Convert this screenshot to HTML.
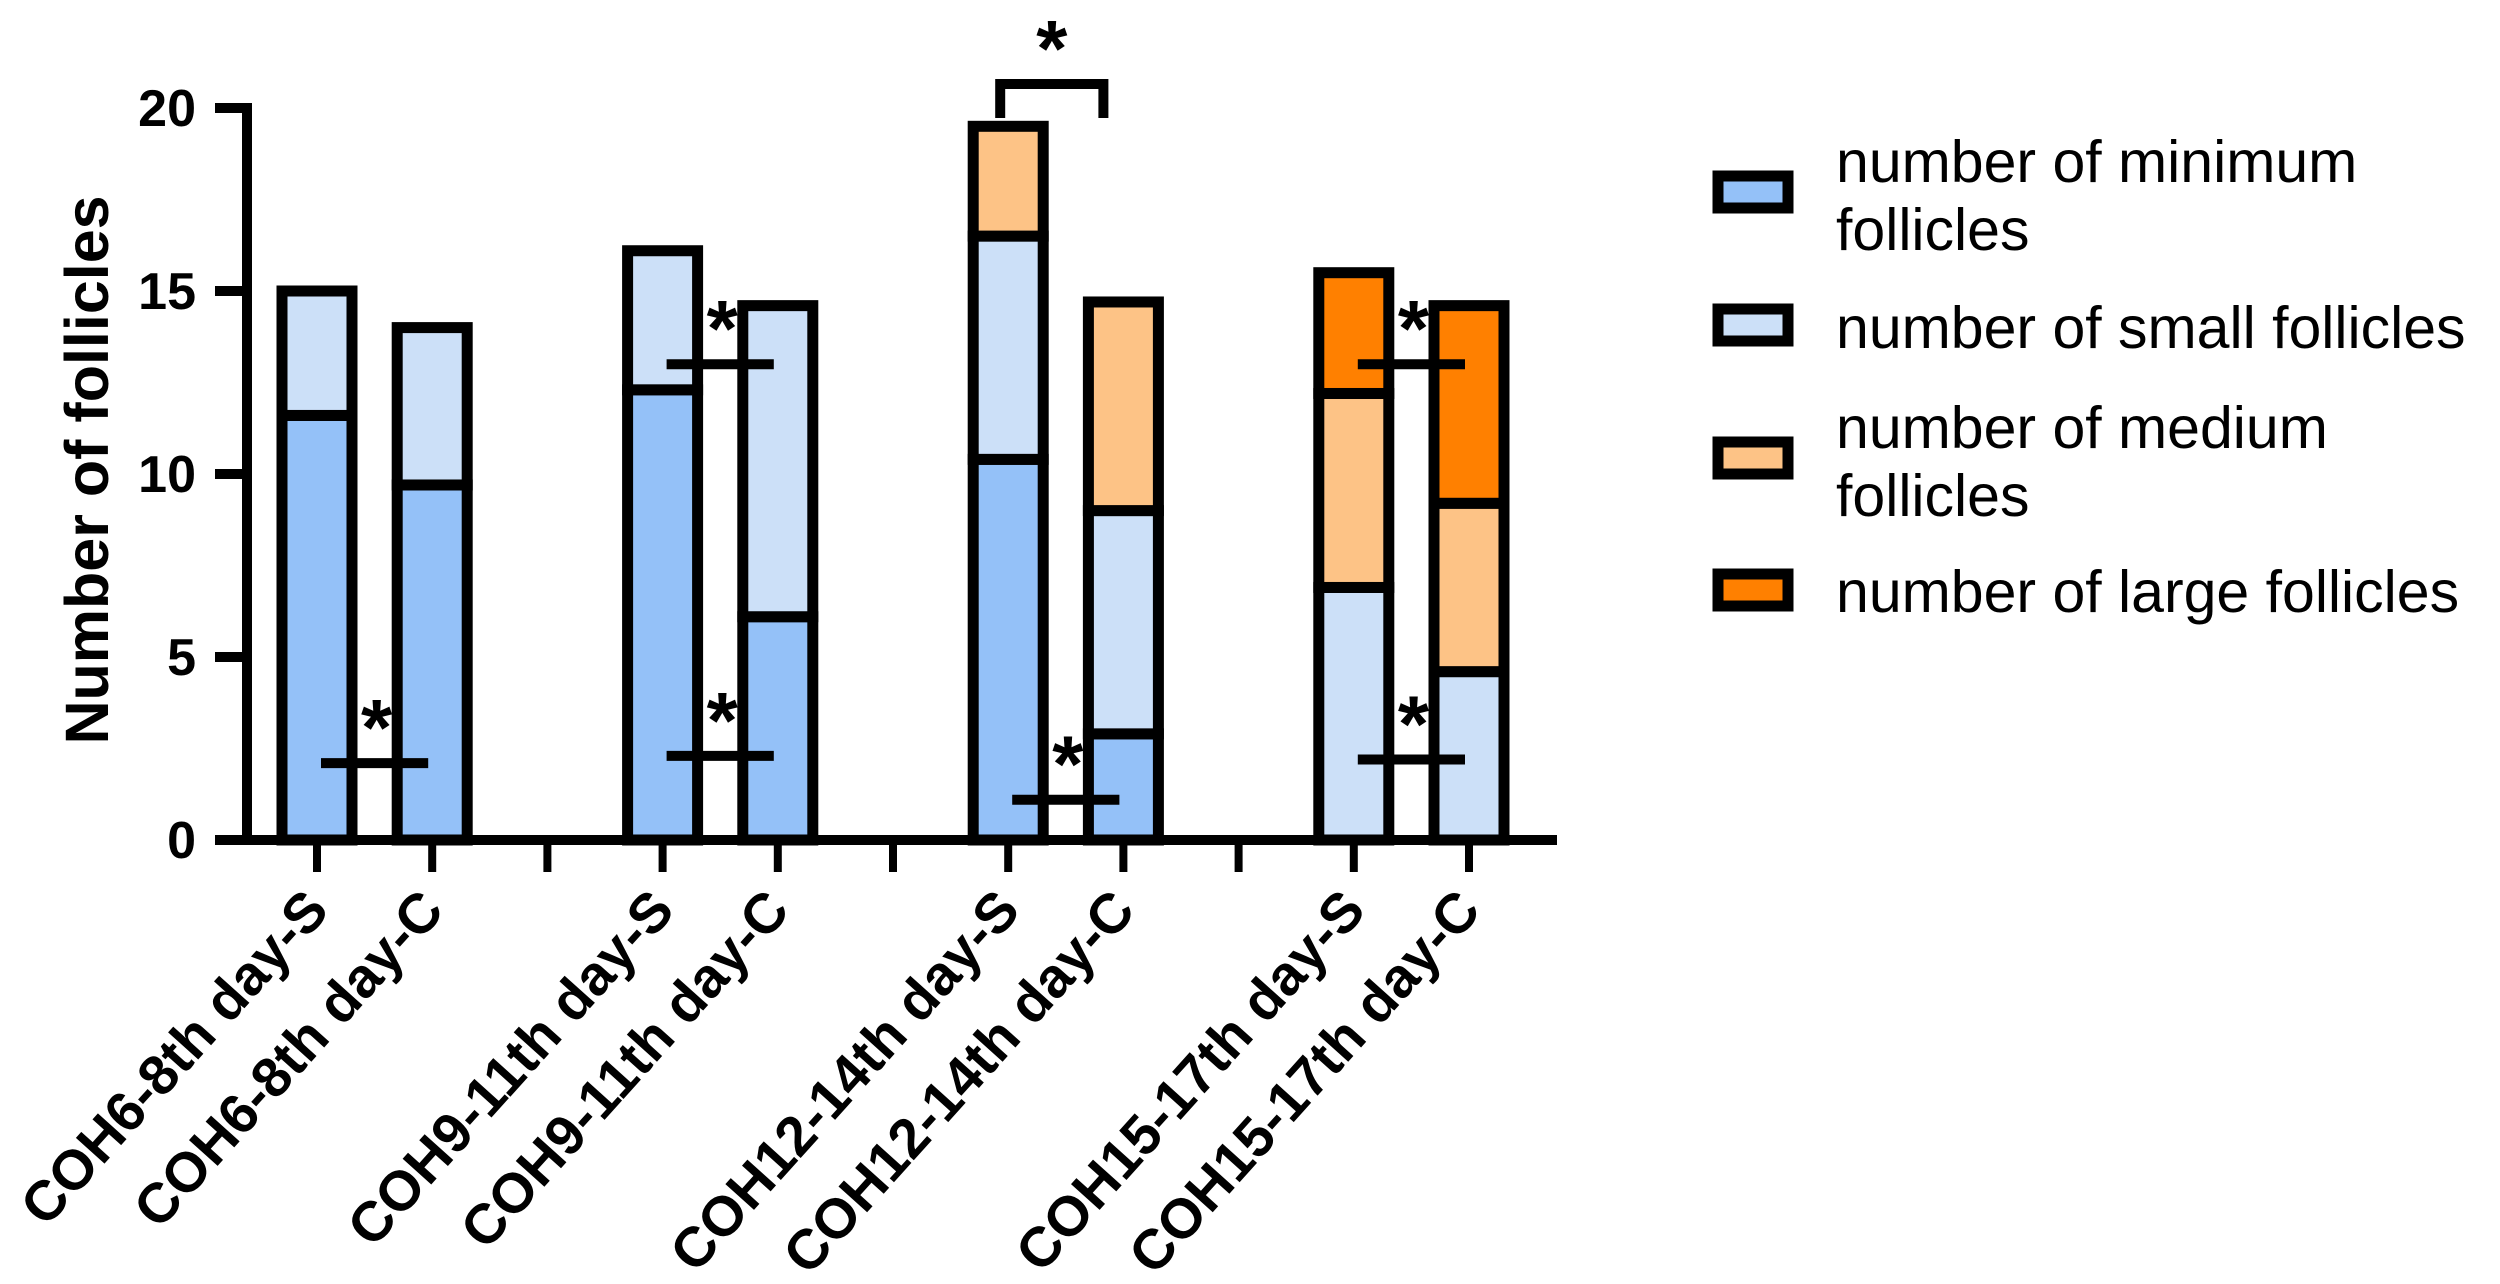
<!DOCTYPE html>
<html><head><meta charset="utf-8"><style>
html,body{margin:0;padding:0;background:#fff;}
svg{display:block;font-family:"Liberation Sans",Arial,sans-serif;}
</style></head><body>
<svg id="chart" width="2500" height="1284" viewBox="0 0 2500 1284" xmlns="http://www.w3.org/2000/svg">
<g id="bars"></g>
<g id="axes"></g>
<g id="annot"></g>
<g id="legend"></g>
</svg>
<script>
const categories = ["COH6-8th day-S","COH6-8th day-C","COH9-11th day-S","COH9-11th day-C","COH12-14th day-S","COH12-14th day-C","COH15-17th day-S","COH15-17th day-C"];
const slotIndex = [0,1,3,4,6,7,9,10];
const minimumVals = [11.6, 9.7, 12.3, 6.1, 10.4, 2.9, 0, 0];
const smallVals   = [3.4, 4.3, 3.8, 8.5, 6.1, 6.1, 6.9, 4.6];
const mediumVals  = [0, 0, 0, 0, 3.0, 5.7, 5.3, 4.6];
const largeVals   = [0, 0, 0, 0, 0, 0, 3.3, 5.4];
const yTicks = [0,5,10,15,20];
const seriesNames = ["number of minimum follicles","number of small follicles","number of medium follicles","number of large follicles"];
const colors = ["#94c1f8","#cce0f8","#fdc386","#ff8000"];
const sigLines = [[0,1,2.1],[2,3,13.0],[2,3,2.3],[4,5,1.1],[6,7,13.0],[6,7,2.2]];

const NS="http://www.w3.org/2000/svg";
const x0=247, slotW=115.2, firstX=317, y0=840, yTop=108, yMax=20;
const bw=70;
function xS(i){return firstX+slotIndex[i]*slotW;}
function xSlot(s){return firstX+s*slotW;}
function yS(v){return y0-(v/yMax)*(y0-yTop);}
function mk(tag,attrs,parent){const e=document.createElementNS(NS,tag);for(const k in attrs)e.setAttribute(k,attrs[k]);parent.appendChild(e);return e;}

const bars=document.getElementById('bars');
const series=[minimumVals,smallVals,mediumVals,largeVals];
categories.forEach((c,i)=>{
  let base=0;
  const cx=xS(i);
  series.forEach((arr,si)=>{
    const v=arr[i]; if(v<=0) return;
    const r=mk('rect',{x:cx-bw/2,y:yS(base+v),width:bw,height:yS(base)-yS(base+v),fill:colors[si],stroke:'#000','stroke-width':11},bars);
    
    
    base+=v;
  });
});

const axes=document.getElementById('axes');
let l=mk('line',{x1:x0,y1:yTop-5,x2:x0,y2:y0+5,stroke:'#000','stroke-width':10},axes);


l=mk('line',{x1:215,y1:y0,x2:1557,y2:y0,stroke:'#000','stroke-width':10},axes);


yTicks.forEach(t=>{
  const tl=mk('line',{x1:215,y1:yS(t),x2:x0,y2:yS(t),stroke:'#000','stroke-width':10},axes);
  
  
  const tx=mk('text',{x:196,y:yS(t)+18,'text-anchor':'end','font-size':52,'font-weight':'bold'},axes);
  tx.textContent=t;
  
  
});
for(let s=0;s<=10;s++){
  const tl=mk('line',{x1:xSlot(s),y1:y0,x2:xSlot(s),y2:872,stroke:'#000','stroke-width':8},axes);
  
  
}
categories.forEach((c,i)=>{
  const px=xS(i)+14, py=912;
  const tx=mk('text',{x:px,y:py,'text-anchor':'end','font-size':56,'font-weight':'bold',transform:`rotate(-48 ${px} ${py})`},axes);
  tx.textContent=c;
  
  
});
const yt=mk('text',{x:0,y:0,'text-anchor':'middle','font-size':61,'font-weight':'bold',transform:'translate(108 470) rotate(-90)'},axes);
yt.textContent='Number of follicles';



const annot=document.getElementById('annot');
sigLines.forEach(s=>{
  const xa=xS(s[0]), xb=xS(s[1]), y=yS(s[2]);
  const ln=mk('line',{x1:xa+4,y1:y,x2:xb-4,y2:y,stroke:'#000','stroke-width':10},annot);
  
  
  const st=mk('text',{x:(xa+xb)/2+2,y:y-8,'text-anchor':'middle','font-size':80,'font-weight':'bold'},annot);
  st.textContent='*';
  
  
});
const bx1=xS(4)-8, bx2=xS(5)-20;
const br=mk('path',{d:`M${bx1} 118 V84 H${bx2} V118`,fill:'none',stroke:'#000','stroke-width':10},annot);


const bs=mk('text',{x:(bx1+bx2)/2,y:76,'text-anchor':'middle','font-size':80,'font-weight':'bold'},annot);
bs.textContent='*';



const legend=document.getElementById('legend');
const swY=[173,306,439,571];
const lines=[["number of minimum","follicles"],["number of small follicles"],["number of medium","follicles"],["number of large follicles"]];
const baseY=[[179,247],[345],[445,513],[609]];
seriesNames.forEach((n,i)=>{
  const r=mk('rect',{x:1718,y:swY[i]+3,width:70,height:32,fill:colors[i],stroke:'#000','stroke-width':11},legend);
  
  
  lines[i].forEach((t,j)=>{
    const tx=mk('text',{x:1836,y:baseY[i][j]+3,'font-size':59},legend);
    tx.textContent=t;
    
    
  });
});
</script>
</body></html>
